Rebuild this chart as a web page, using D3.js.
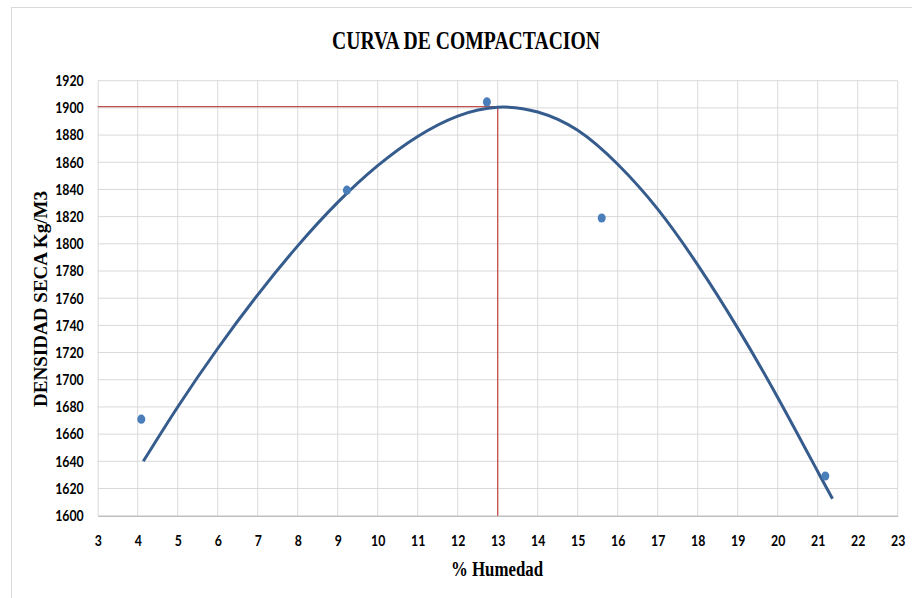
<!DOCTYPE html>
<html>
<head>
<meta charset="utf-8">
<script src="https://cdn.jsdelivr.net/npm/d3@7"></script>
<style>
  body { margin: 0; background: #fff; }
  svg { display: block; }
</style>
</head>
<body>
<div id="chart"></div>
<script>
// measured points (humedad %, densidad kg/m3)
const humedad = [4.09, 9.23, 12.73, 15.6, 21.19];
const densidad = [1671, 1839.5, 1904.4, 1819, 1629.2];

// trendline
const curveX = [4.14, 5, 6, 7, 8, 9, 10, 11, 12, 13, 14, 15, 16, 17, 18, 19, 20, 21, 21.37];
const curveY = [1640, 1680, 1723, 1762.5, 1798.5, 1830.5, 1857.5, 1879, 1894, 1900.5, 1897, 1883.5, 1858.5, 1825.5, 1784.5, 1738, 1687, 1632.5, 1612.5];

// max density / optimum moisture guide
const guideX = [3, 13, 13];
const guideY = [1901, 1901, 1600];

const xTicks = d3.range(3, 24, 1);
const yTicks = d3.range(1600, 1921, 20);

const width = 912, height = 598;
const margin = {top: 80.7, right: 14.3, bottom: 82.3, left: 97.7};

const svg = d3.select('#chart').append('svg')
  .attr('width', width)
  .attr('height', height);

// chart area border
svg.append('rect')
  .attr('x', 11.5).attr('y', 7.5)
  .attr('width', width).attr('height', height)
  .attr('fill', 'none')
  .attr('stroke', '#d9d9d9');

const x = d3.scaleLinear().domain([3, 23]).range([margin.left, width - margin.right]);
const y = d3.scaleLinear().domain([1600, 1920]).range([height - margin.bottom, margin.top]);

// grid
svg.append('g').selectAll('line').data(xTicks.slice(1))
  .join('line')
  .attr('x1', d => x(d)).attr('x2', d => x(d))
  .attr('y1', y(1600)).attr('y2', y(1920))
  .attr('stroke', '#d9d9d9').attr('stroke-width', 1);
svg.append('g').selectAll('line').data(yTicks.slice(1))
  .join('line')
  .attr('x1', x(3)).attr('x2', x(23))
  .attr('y1', d => y(d)).attr('y2', d => y(d))
  .attr('stroke', '#d9d9d9').attr('stroke-width', 1);

// axes
const xAxis = svg.append('g')
  .attr('transform', `translate(0,${y(1600)})`)
  .call(d3.axisBottom(x).tickValues(xTicks).tickSize(0).tickPadding(20));
xAxis.select('.domain').attr('stroke', '#bfbfbf').attr('stroke-width', 1.5);

const yAxis = svg.append('g')
  .attr('transform', `translate(${x(3)},0)`)
  .call(d3.axisLeft(y).tickValues(yTicks).tickFormat(d3.format('d')).tickSize(0).tickPadding(14));
yAxis.select('.domain').attr('stroke', '#d9d9d9').attr('stroke-width', 1);

svg.selectAll('.tick text')
  .attr('font-family', 'Lato, sans-serif')
  .attr('font-weight', 'bold')
  .attr('font-size', 15)
  .attr('fill', '#000');
xAxis.selectAll('.tick text').attr('transform', 'scale(0.82,1)');
yAxis.selectAll('.tick text')
  .attr('transform', 'scale(0.82,1)')
  .attr('x', -14 / 0.82);

// guide lines
const guide = d3.zip(guideX, guideY);
svg.append('path')
  .datum(guide)
  .attr('fill', 'none')
  .attr('stroke', '#c0504d')
  .attr('stroke-width', 1.3)
  .attr('d', d3.line().x(d => x(d[0])).y(d => y(d[1])));

// trendline
const curve = d3.zip(curveX, curveY);
svg.append('path')
  .datum(curve)
  .attr('fill', 'none')
  .attr('stroke', '#355c8d')
  .attr('stroke-width', 3)
  .attr('d', d3.line().x(d => x(d[0])).y(d => y(d[1])).curve(d3.curveNatural));

// points
svg.append('g').selectAll('ellipse').data(d3.zip(humedad, densidad))
  .join('ellipse')
  .attr('cx', d => x(d[0]))
  .attr('cy', d => y(d[1]))
  .attr('rx', 4).attr('ry', 4.6)
  .attr('fill', '#4a7ebb');

// titles
svg.append('text')
  .attr('x', 466).attr('y', 49)
  .attr('text-anchor', 'middle')
  .attr('font-family', '"Liberation Serif", serif')
  .attr('font-weight', 'bold')
  .attr('font-size', 25)
  .attr('textLength', 268)
  .attr('lengthAdjust', 'spacingAndGlyphs')
  .text('CURVA DE COMPACTACION');

svg.append('text')
  .attr('x', 497).attr('y', 576)
  .attr('text-anchor', 'middle')
  .attr('font-family', '"Liberation Serif", serif')
  .attr('font-weight', 'bold')
  .attr('font-size', 20)
  .attr('textLength', 92)
  .attr('lengthAdjust', 'spacingAndGlyphs')
  .text('% Humedad');

svg.append('text')
  .attr('transform', 'translate(47,299) rotate(-90)')
  .attr('text-anchor', 'middle')
  .attr('font-family', '"Liberation Serif", serif')
  .attr('font-weight', 'bold')
  .attr('font-size', 18)
  .attr('textLength', 216)
  .attr('lengthAdjust', 'spacingAndGlyphs')
  .text('DENSIDAD SECA Kg/M3');
</script>
</body>
</html>
